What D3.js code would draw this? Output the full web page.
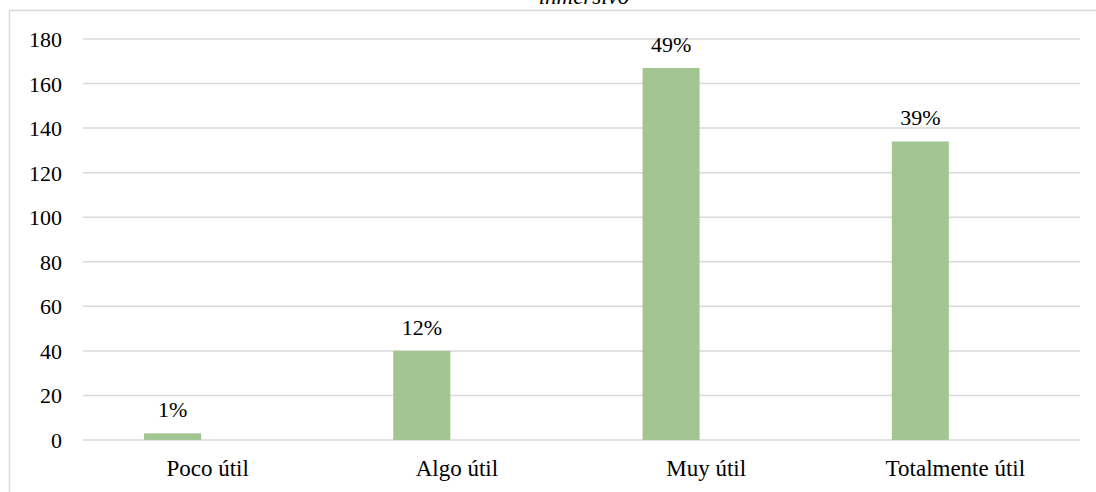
<!DOCTYPE html>
<html>
<head>
<meta charset="utf-8">
<script src="https://cdn.jsdelivr.net/npm/d3@7"></script>
<style>
  html, body { margin: 0; padding: 0; background: #ffffff; }
  svg { display: block; }
  svg text { font-family: "Liberation Serif", "Times New Roman", serif; }
</style>
</head>
<body>
<svg id="chart" width="1096" height="492"></svg>
<script>
const categories = ["Poco útil", "Algo útil", "Muy útil", "Totalmente útil"];
const values = [3, 40, 167, 134];
const percentLabels = ["1%", "12%", "49%", "39%"];
const seriesNames = ["Frecuencia", "(vacía)"];
const yTicks = [0, 20, 40, 60, 80, 100, 120, 140, 160, 180];
const titleText = "inmersivo";

const svg = d3.select("#chart");
const plot = { left: 83, right: 1080, top: 39, bottom: 440 };

// chart frame
svg.append("rect")
  .attr("x", 9.5).attr("y", 10.5)
  .attr("width", 1200).attr("height", 600)
  .attr("fill", "#ffffff")
  .attr("stroke", "#d9d9d9").attr("stroke-width", 1.5);

// clipped title (second line, cut by the top edge as in the source)
svg.append("text")
  .attr("x", 584).attr("y", 4)
  .attr("text-anchor", "middle")
  .style("font-style", "italic")
  .style("font-size", "23px")
  .attr("fill", "#000")
  .text(titleText);

const x = d3.scaleBand().domain(categories).range([plot.left, plot.right]).padding(0);
const sub = d3.scaleBand().domain(seriesNames).range([0, x.bandwidth()])
  .paddingInner(0.186).paddingOuter(0.871);
const y = d3.scaleLinear().domain([0, 180]).range([plot.bottom, plot.top]);

// gridlines
svg.append("g")
  .selectAll("line")
  .data(yTicks)
  .join("line")
  .attr("x1", plot.left).attr("x2", plot.right)
  .attr("y1", d => y(d)).attr("y2", d => y(d))
  .attr("stroke", "#d9d9d9").attr("stroke-width", 1.5);

// y axis labels
const yAxis = d3.axisLeft(y).tickValues(yTicks).tickSize(0).tickPadding(21);
const gy = svg.append("g").attr("transform", `translate(${plot.left},0)`).call(yAxis);
gy.select(".domain").remove();
gy.attr("font-family", null).attr("font-size", null);
gy.selectAll("text")
  .style("font-size", "22px").attr("fill", "#000")
  .attr("dy", "0.34em");

// x axis labels
const xAxis = d3.axisBottom(x).tickSize(0).tickPadding(20);
const gx = svg.append("g").attr("transform", `translate(0,${plot.bottom})`).call(xAxis);
gx.select(".domain").remove();
gx.attr("font-family", null).attr("font-size", null);
gx.selectAll("text")
  .style("font-size", "23px").attr("fill", "#000");

// bars
svg.append("g")
  .selectAll("rect")
  .data(categories)
  .join("rect")
  .attr("x", (d) => x(d) + sub(seriesNames[0]))
  .attr("width", sub.bandwidth())
  .attr("y", (d, i) => y(values[i]))
  .attr("height", (d, i) => y(0) - y(values[i]))
  .attr("fill", "#a2c591");

// data labels
svg.append("g")
  .selectAll("text")
  .data(categories)
  .join("text")
  .attr("x", d => x(d) + sub(seriesNames[0]) + sub.bandwidth() / 2)
  .attr("y", (d, i) => y(values[i]) - 16)
  .attr("text-anchor", "middle")
  .style("font-size", "22px").attr("fill", "#000")
  .text((d, i) => percentLabels[i]);
</script>
</body>
</html>
